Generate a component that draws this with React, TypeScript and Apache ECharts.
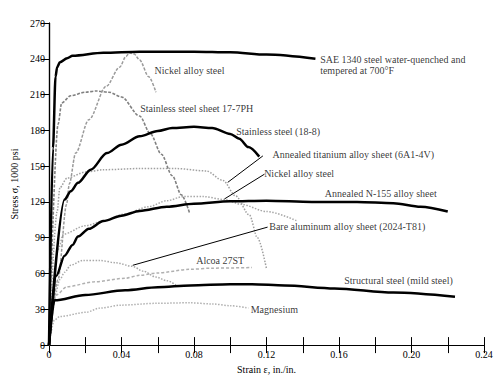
import React, { useEffect, useRef } from "react";
import * as echarts from "echarts";

// ---- axis tick labels ----
const xTickLabels = ["0", "0.04", "0.08", "0.12", "0.16", "0.20", "0.24"];

// ---- curves (strain in./in., stress 1000 psi) ----
const saeStrain = [0, 0.0022, 0.0036, 0.0045, 0.006, 0.01, 0.013, 0.03, 0.05, 0.08, 0.1, 0.12, 0.147];
const saeStress = [0, 165, 225, 233, 237, 240.5, 242.5, 245, 246, 246, 245.5, 243.5, 240];

const nickel1Strain = [0, 0.005, 0.0097, 0.0112, 0.0147, 0.022, 0.0316, 0.039, 0.0425, 0.0444, 0.047, 0.05, 0.055, 0.059];
const nickel1Stress = [0, 55, 118, 135, 161, 189, 217, 233, 242, 245, 244, 239, 225, 212];

const ph17Strain = [0, 0.005, 0.007, 0.012, 0.02, 0.026, 0.033, 0.04, 0.05, 0.056, 0.062, 0.068, 0.073, 0.0775];
const ph17Stress = [0, 185, 203, 209, 212, 213, 212, 208, 192, 177, 160, 142, 126, 111];

const ss188Strain = [0, 0.0086, 0.012, 0.016, 0.023, 0.032, 0.04, 0.05, 0.06, 0.068, 0.08, 0.09, 0.1, 0.105, 0.11, 0.116];
const ss188Stress = [0, 122, 129, 136, 147, 161, 168, 175, 179.5, 182, 183, 182, 177, 173, 166, 158];

const tiStrain = [0, 0.0045, 0.006, 0.01, 0.02, 0.03, 0.05, 0.07, 0.0867, 0.096, 0.103, 0.1106, 0.115, 0.12];
const tiStress = [0, 112, 132, 140, 145, 147, 148, 148, 146, 138, 125, 109, 90, 64];

const nickel2Strain = [0, 0.005, 0.008, 0.02, 0.03, 0.042, 0.055, 0.065, 0.074, 0.085, 0.097, 0.106, 0.12, 0.137];
const nickel2Stress = [0, 80, 93, 100, 104, 110, 116, 121, 124.5, 124.5, 122, 118, 112, 104];

const n155Strain = [0, 0.004, 0.0086, 0.013, 0.016, 0.022, 0.03, 0.04, 0.05, 0.065, 0.08, 0.1, 0.12, 0.145, 0.17, 0.19, 0.205, 0.22];
const n155Stress = [0, 58, 75, 84, 91, 97.5, 104, 108.5, 112.5, 116, 118.5, 120.5, 121, 120, 120, 119, 116, 112];

const bareAlStrain = [0, 0.003, 0.006, 0.0086, 0.012, 0.0187, 0.028, 0.037, 0.046, 0.052, 0.059, 0.065, 0.07];
const bareAlStress = [0, 40, 55, 61, 67, 71, 71, 69, 66, 62, 57, 54, 50.5];

const alcoaStrain = [0, 0.004, 0.01, 0.025, 0.042, 0.05, 0.06, 0.0775, 0.09, 0.112];
const alcoaStress = [0, 42, 49, 53, 56, 58.5, 60.5, 63.5, 64.5, 65];

const mildStrain = [0, 0.003, 0.02, 0.042, 0.06, 0.078, 0.1, 0.112, 0.13, 0.1575, 0.19, 0.224];
const mildStress = [0, 37.5, 42, 46, 48.5, 50, 51, 51, 50, 47.5, 44, 40.5];

const mgStrain = [0, 0.003, 0.006, 0.0205, 0.028, 0.04, 0.059, 0.0775, 0.09, 0.1, 0.11];
const mgStress = [0, 21, 24, 27.5, 31, 33.5, 35, 35.5, 34.5, 33, 31];

// ---- annotation texts and anchor points (data space) ----
const labelTexts = [
  "SAE 1340 steel water-quenched and\ntempered at 700°F",
  "Nickel alloy steel",
  "Stainless steel sheet 17-7PH",
  "Stainless steel (18-8)",
  "Annealed titanium alloy sheet (6A1-4V)",
  "Nickel alloy steel",
  "Annealed N-155 alloy sheet",
  "Bare aluminum alloy sheet (2024-T81)",
  "Alcoa 27ST",
  "Structural steel (mild steel)",
  "Magnesium",
];
const labelStrain = [0.1496, 0.0582, 0.0503, 0.1033, 0.1233, 0.1187, 0.1522, 0.1215, 0.0812, 0.1629, 0.1113];
const labelStress = [235, 230, 198, 179, 160, 144, 126.7, 99, 71, 54, 30.2];

// leader arrows: from label to curve
const arrowFromStrain = [0.118, 0.1189, 0.1206];
const arrowFromStress = [158.6, 143.3, 98.9];
const arrowToStrain = [0.0986, 0.0968, 0.0462];
const arrowToStress = [136.4, 122.5, 66.9];

const FONT = "'Liberation Serif', 'DejaVu Serif', serif";

const zip = (xs: number[], ys: number[]) => xs.map((x, i) => [x, ys[i]]);

export default function App() {
  const ref = useRef<HTMLDivElement>(null);

  useEffect(() => {
    if (!ref.current) return;
    const chart = echarts.init(ref.current, undefined, { renderer: "svg" });

    const thick = (name: string, xs: number[], ys: number[]) => ({
      name,
      type: "line",
      data: zip(xs, ys),
      showSymbol: false,
      smooth: 0.3,
      smoothMonotone: "x",
      lineStyle: { color: "#000", width: 2.5 },
      z: 3,
    });
    const gray = (name: string, xs: number[], ys: number[], color: string, dash: number[], width = 1.5) => ({
      name,
      type: "line",
      data: zip(xs, ys),
      showSymbol: false,
      smooth: 0.3,
      smoothMonotone: "x",
      lineStyle: { color, width, type: dash },
      z: 2,
    });

    chart.setOption({
      animation: false,
      backgroundColor: "#fff",
      grid: { left: 49, top: 23, width: 435, height: 324 },
      xAxis: [
        {
          type: "value",
          min: 0,
          max: 0.24,
          interval: 0.02,
          position: "bottom",
          axisLine: { lineStyle: { color: "#000", width: 1.2 } },
          axisTick: { inside: true, length: 8, lineStyle: { color: "#000", width: 1 } },
          axisLabel: {
            color: "#000",
            fontFamily: FONT,
            fontSize: 10,
            margin: 4,
            formatter: (v: number) => {
              const k = Math.round(v * 100);
              return k % 4 === 0 ? xTickLabels[k / 4] : "";
            },
          },
          splitLine: { show: false },
          name: "Strain ε, in./in.",
          nameLocation: "middle",
          nameGap: 17,
          nameTextStyle: { color: "#000", fontFamily: FONT, fontSize: 10 },
        },
        {
          type: "value",
          min: 0,
          max: 0.24,
          interval: 0.02,
          position: "top",
          axisLine: { lineStyle: { color: "#000", width: 1.2 } },
          axisTick: { inside: true, length: 8, lineStyle: { color: "#000", width: 1 } },
          axisLabel: { show: false },
          splitLine: { show: false },
        },
      ],
      yAxis: [
        {
          type: "value",
          min: 0,
          max: 270,
          interval: 30,
          position: "left",
          axisLine: { show: true, lineStyle: { color: "#000", width: 1.2 } },
          axisTick: { show: true, inside: false, length: 4, lineStyle: { color: "#000", width: 1 } },
          axisLabel: { color: "#000", fontFamily: FONT, fontSize: 10, margin: 4 },
          splitLine: { show: false },
          name: "Stress σ, 1000 psi",
          nameLocation: "middle",
          nameGap: 29,
          nameRotate: 90,
          nameTextStyle: { color: "#000", fontFamily: FONT, fontSize: 10 },
        },
        {
          type: "value",
          min: 0,
          max: 270,
          interval: 30,
          position: "right",
          axisLine: { show: true, lineStyle: { color: "#000", width: 1.2 } },
          axisTick: { show: true, inside: true, length: 8, lineStyle: { color: "#000", width: 1 } },
          axisLabel: { show: false },
          splitLine: { show: false },
        },
      ],
      series: [
        gray("Magnesium", mgStrain, mgStress, "#b0b0b0", [1.5, 1.5]),
        gray("Alcoa 27ST", alcoaStrain, alcoaStress, "#b0b0b0", [3, 2]),
        gray("Bare aluminum", bareAlStrain, bareAlStress, "#a8a8a8", [1.5, 1.5]),
        gray("Nickel alloy steel 2", nickel2Strain, nickel2Stress, "#a8a8a8", [1.5, 1.5]),
        gray("Titanium", tiStrain, tiStress, "#a0a0a0", [1.5, 1.5]),
        gray("17-7PH", ph17Strain, ph17Stress, "#808080", [3, 1.5], 1.6),
        gray("Nickel alloy steel", nickel1Strain, nickel1Stress, "#9a9a9a", [3, 1.5]),
        thick("Structural steel", mildStrain, mildStress),
        thick("N-155", n155Strain, n155Stress),
        thick("18-8", ss188Strain, ss188Stress),
        thick("SAE 1340", saeStrain, saeStress),
        {
          name: "labels",
          type: "scatter",
          symbol: "circle",
          symbolSize: 0,
          itemStyle: { color: "rgba(0,0,0,0)" },
          data: labelTexts.map((t, i) => ({ name: t, value: [labelStrain[i], labelStress[i]] })),
          label: {
            show: true,
            position: "right",
            distance: 0,
            formatter: "{b}",
            color: "#000",
            fontFamily: FONT,
            fontSize: 10,
            lineHeight: 11,
            align: "left",
          },
          silent: true,
          z: 5,
          markLine: {
            silent: true,
            symbol: ["none", "arrow"],
            symbolSize: [0, 7],
            label: { show: false },
            lineStyle: { color: "#000", width: 1, type: "solid" },
            data: arrowFromStrain.map((x, i) => [
              { coord: [x, arrowFromStress[i]] },
              { coord: [arrowToStrain[i], arrowToStress[i]] },
            ]),
          },
        },
      ],
    });

    return () => chart.dispose();
  }, []);

  return (
    <div
      ref={ref}
      style={{ position: "fixed", left: 0, top: 0, width: 498, height: 379, background: "#fff" }}
    />
  );
}
